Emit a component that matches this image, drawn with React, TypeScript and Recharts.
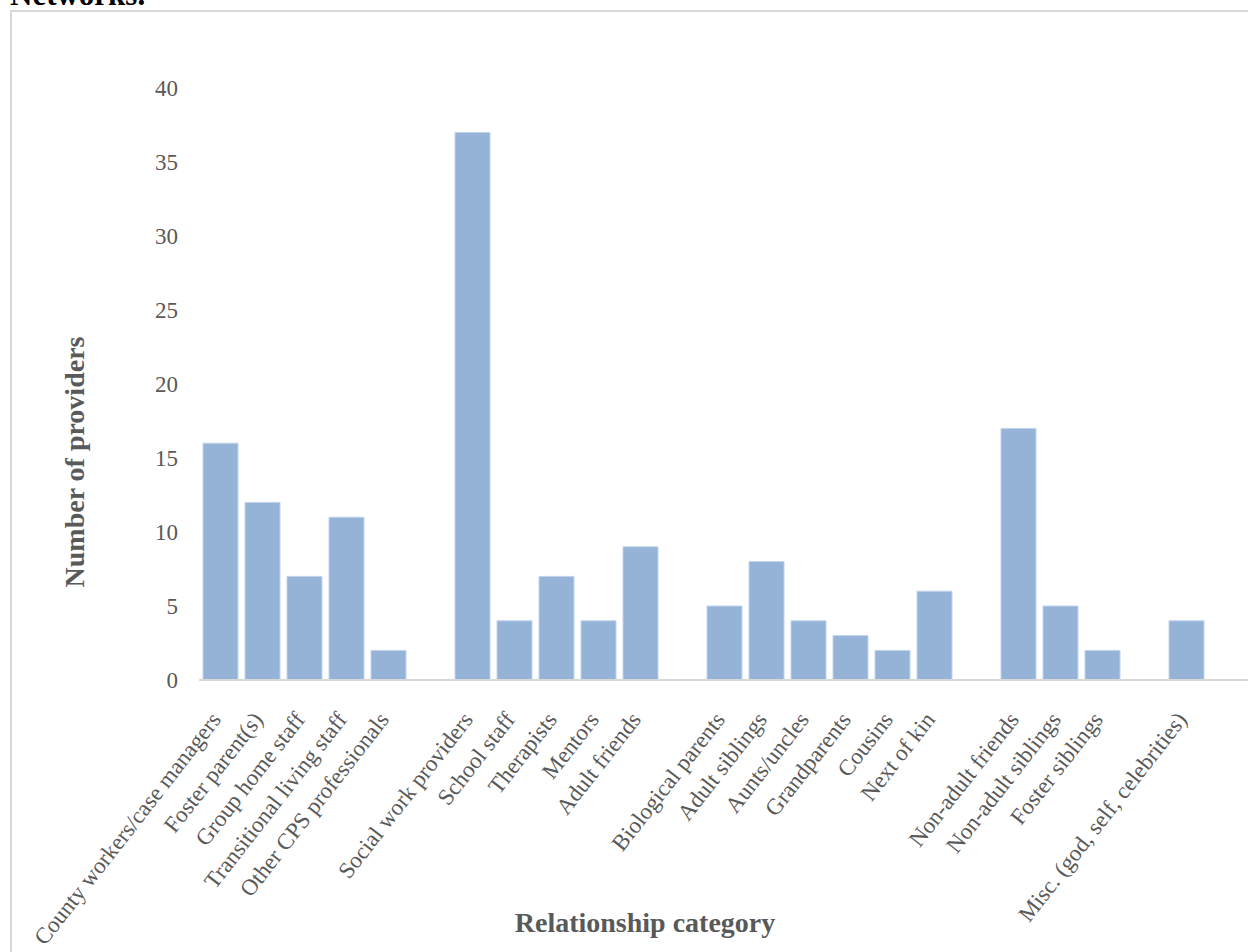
import React from 'react';
import { BarChart, Bar, XAxis, YAxis } from 'recharts';

const categories: string[] = [
  'County workers/case managers',
  'Foster parent(s)',
  'Group home staff',
  'Transitional living staff',
  'Other CPS professionals',
  '',
  'Social work providers',
  'School staff',
  'Therapists',
  'Mentors',
  'Adult friends',
  '',
  'Biological parents',
  'Adult siblings',
  'Aunts/uncles',
  'Grandparents',
  'Cousins',
  'Next of kin',
  '',
  'Non-adult friends',
  'Non-adult siblings',
  'Foster siblings',
  '',
  'Misc. (god, self, celebrities)',
  '',
];

const providers: (number | null)[] = [
  16, 12, 7, 11, 2, null,
  37, 4, 7, 4, 9, null,
  5, 8, 4, 3, 2, 6, null,
  17, 5, 2, null,
  4, null,
];

const yTicks: number[] = [0, 5, 10, 15, 20, 25, 30, 35, 40];

const title = 'Networks.';
const xTitle = 'Relationship category';
const yTitle = 'Number of providers';

const data = categories.map((c, i) => ({
  key: c === '' ? `gap-${i}` : c,
  label: c,
  value: providers[i],
}));

const FONT = '"Liberation Serif", "Times New Roman", Times, serif';
const GRAY = '#595959';

const XTick = (props: any) => {
  const { x, y, index } = props;
  const label = categories[index];
  if (!label) return null;
  const ax = x + 2;
  const ay = y + 32;
  return (
    <text
      x={ax}
      y={ay}
      transform={`rotate(-52, ${ax}, ${ay})`}
      textAnchor="end"
      fontFamily={FONT}
      fontSize={23}
      fill={GRAY}
    >
      {label}
    </text>
  );
};

export default function App() {
  return (
    <div
      style={{
        position: 'absolute',
        left: 0,
        top: 0,
        width: 1248,
        height: 952,
        overflow: 'hidden',
        background: '#ffffff',
        fontFamily: FONT,
      }}
    >
      <div
        style={{
          position: 'absolute',
          left: 10,
          top: 10,
          width: 1300,
          height: 1000,
          border: '2px solid #d9d9d9',
          boxSizing: 'border-box',
        }}
      />
      <div style={{ position: 'absolute', left: 0, top: 0 }}>
        <BarChart
          width={1300}
          height={952}
          data={data}
          margin={{ top: 88, right: 51, left: 139, bottom: 72 }}
        >
          <XAxis
            dataKey="key"
            interval={0}
            height={200}
            tickLine={false}
            axisLine={{ stroke: '#d9d9d9', strokeWidth: 2 }}
            tick={<XTick />}
          />
          <YAxis
            width={60}
            domain={[0, 40]}
            ticks={yTicks}
            axisLine={false}
            tickLine={false}
            tickSize={0}
            tickMargin={21}
            tick={{ fontFamily: FONT, fontSize: 23, fill: GRAY }}
          />
          <Bar
            dataKey="value"
            barSize={35}
            fill="#95b3d7"
            stroke="#c0d3ea"
            strokeWidth={1}
            isAnimationActive={false}
          />
        </BarChart>
      </div>
      <svg
        width={1248}
        height={952}
        style={{ position: 'absolute', left: 0, top: 0, pointerEvents: 'none' }}
      >
        <text x={10} y={5} fontFamily={FONT} fontSize={31} fontWeight="bold" fill="#000000">
          {title}
        </text>
        <text
          x={645}
          y={932}
          textAnchor="middle"
          fontFamily={FONT}
          fontSize={28}
          fontWeight="bold"
          fill={GRAY}
        >
          {xTitle}
        </text>
        <text
          transform="translate(84, 462) rotate(-90)"
          x={0}
          y={0}
          textAnchor="middle"
          fontFamily={FONT}
          fontSize={28}
          fontWeight="bold"
          fill={GRAY}
        >
          {yTitle}
        </text>
      </svg>
    </div>
  );
}
